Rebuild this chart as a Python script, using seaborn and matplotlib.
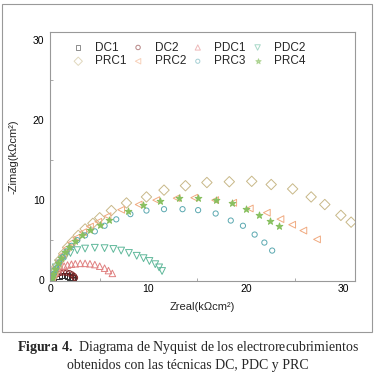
import numpy as np
import pandas as pd
import matplotlib
matplotlib.use("Agg")
import matplotlib.pyplot as plt
from matplotlib.patches import Rectangle
import seaborn as sns

sns.set_theme(style="white")
plt.rcParams['font.family'] = ['Liberation Sans', 'DejaVu Sans']
plt.rcParams['mathtext.fontset'] = 'custom'
plt.rcParams['mathtext.rm'] = 'Liberation Serif'
plt.rcParams['mathtext.bf'] = 'Liberation Serif:bold'

# ---- data (kOhm cm^2) ----
series_names = ["DC1", "DC2", "PDC1", "PDC2", "PRC1", "PRC2", "PRC3", "PRC4"]

dc1_x = [0.02, 0.1, 0.25, 0.5, 0.8, 1.1, 1.4, 1.7, 1.95, 2.15, 2.25]
dc1_y = [0.05, 0.15, 0.3, 0.45, 0.55, 0.6, 0.6, 0.5, 0.4, 0.25, 0.1]

dc2_x = [0.05, 0.15, 0.3, 0.5, 0.75, 1.0, 1.3, 1.6, 1.9, 2.15, 2.35, 2.45]
dc2_y = [0.1, 0.3, 0.5, 0.7, 0.85, 0.95, 1.0, 0.95, 0.85, 0.7, 0.5, 0.3]

pdc1_x = [0.05, 0.15, 0.3, 0.5, 0.75, 1.0, 1.35, 1.7, 2.1, 2.5, 3.0, 3.5, 4.0, 4.5, 5.0, 5.5, 5.9, 6.3]
pdc1_y = [0.15, 0.4, 0.7, 1.0, 1.3, 1.55, 1.75, 1.9, 2.0, 2.05, 2.1, 2.1, 2.05, 1.95, 1.75, 1.5, 1.2, 0.85]

pdc2_x = [0.05, 0.15, 0.3, 0.5, 0.75, 1.1, 1.5, 2.0, 2.7, 3.5, 4.5, 5.5, 6.4, 7.2, 8.0, 8.8, 9.5, 10.1, 10.7, 11.1, 11.4]
pdc2_y = [0.2, 0.6, 1.1, 1.6, 2.1, 2.6, 3.0, 3.4, 3.75, 3.95, 4.05, 4.0, 3.9, 3.7, 3.4, 3.05, 2.75, 2.4, 2.0, 1.6, 1.15]

prc1_x = [0.1, 0.3, 0.6, 0.9, 1.3, 1.7, 2.2, 2.8, 3.5, 4.3, 5.0, 6.2, 7.75, 9.8, 11.6, 13.8, 16.0, 18.3, 20.6, 22.6, 24.8, 26.7, 28.1, 29.75, 30.8]
prc1_y = [0.3, 0.9, 1.7, 2.5, 3.3, 4.1, 4.8, 5.6, 6.4, 7.1, 7.8, 8.7, 9.65, 10.4, 11.25, 11.8, 12.2, 12.3, 12.35, 11.95, 11.4, 10.4, 9.45, 8.1, 7.25]

prc2_x = [0.1, 0.3, 0.55, 0.85, 1.2, 1.6, 2.1, 2.6, 3.3, 4.0, 4.85, 5.8, 7.2, 9.0, 10.8, 12.9, 14.7, 16.85, 18.7, 20.4, 22.15, 23.55, 24.75, 25.9, 27.3]
prc2_y = [0.3, 0.9, 1.6, 2.4, 3.2, 4.0, 4.7, 5.3, 6.0, 6.7, 7.3, 8.0, 8.8, 9.45, 10.0, 10.25, 10.3, 10.0, 9.67, 8.96, 8.43, 7.63, 6.93, 6.2, 5.1]

prc3_x = [0.1, 0.3, 0.55, 0.85, 1.2, 1.6, 2.1, 2.7, 3.5, 4.5, 5.5, 6.7, 8.15, 9.8, 11.6, 13.5, 15.1, 16.9, 18.45, 19.7, 20.9, 21.9, 22.7]
prc3_y = [0.25, 0.8, 1.5, 2.2, 2.9, 3.6, 4.3, 5.0, 5.6, 6.1, 6.8, 7.6, 8.25, 8.7, 8.87, 8.87, 8.75, 8.33, 7.45, 6.8, 5.7, 4.7, 3.7]

prc4_x = [0.1, 0.25, 0.45, 0.7, 1.0, 1.4, 1.9, 2.5, 3.2, 4.0, 5.0, 6.0, 7.9, 9.4, 11.15, 13.15, 15.1, 16.9, 18.6, 20.0, 21.35, 22.5, 23.4]
prc4_y = [0.3, 0.8, 1.4, 2.1, 2.8, 3.5, 4.2, 4.9, 5.6, 6.3, 6.9, 7.5, 8.6, 9.4, 9.9, 10.3, 10.25, 10.05, 9.7, 8.9, 8.2, 7.4, 6.75]

xs = [dc1_x, dc2_x, pdc1_x, pdc2_x, prc1_x, prc2_x, prc3_x, prc4_x]
ys = [dc1_y, dc2_y, pdc1_y, pdc2_y, prc1_y, prc2_y, prc3_y, prc4_y]

x_ticks = [0, 10, 20, 30]
y_ticks = [0, 10, 20, 30]

# ---- styles ----
colors = ["#303030", "#7a2020", "#e08080", "#5fb89a", "#c8b888", "#f0aa80", "#5aa8b0", "#88c060"]
markers = ["s", "o", "^", "v", "D", "<", "o", "*"]
sizes = [16, 16, 22, 24, 28, 24, 14, 26]
filled = [False, False, False, False, False, False, False, True]

fig = plt.figure(figsize=(3.75, 3.77), dpi=100)
ax = fig.add_axes([50/375, 1-281/377, 305/375, 249/377])

for name, x, y, c, m, s, f in zip(series_names, xs, ys, colors, markers, sizes, filled):
    df = pd.DataFrame({"x": x, "y": y})
    sns.scatterplot(data=df, x="x", y="y", ax=ax, marker=m, s=s,
                    color=c, facecolors=(c if f else "none"), edgecolor=c,
                    linewidth=0.7, label=name, legend=False)

ax.set_xlim(-0.1, 31.2)
ax.set_ylim(-0.1, 31.0)
ax.set_xticks(x_ticks)
ax.set_yticks(y_ticks)
ax.set_xticks([5, 15, 25], minor=True)
ax.set_yticks([5, 15, 25], minor=True)
ax.tick_params(axis="x", which="major", direction="in", length=3, width=0.6, colors="#888888", labelcolor="black", labelsize=7.5, pad=2)
ax.tick_params(axis="y", which="major", direction="inout", length=4, width=0.6, colors="#888888", labelcolor="black", labelsize=7.5, pad=2)
ax.tick_params(which="minor", direction="in", length=2, width=0.5, colors="#888888", bottom=True, left=True)
for sp in ax.spines.values():
    sp.set_color("#999999")
    sp.set_linewidth(0.8)

ax.set_xlabel("Zreal(k\u03a9cm\u00b2)", fontsize=8, labelpad=6)
ax.set_ylabel("-Zimag(k\u03a9cm\u00b2)", fontsize=8, labelpad=10)

handles, labels = ax.get_legend_handles_labels()
order = [0, 4, 1, 5, 2, 6, 3, 7]
leg = ax.legend([handles[i] for i in order], [labels[i] for i in order], ncol=4,
                loc="upper left", bbox_to_anchor=(0.05, 0.99),
                frameon=False, fontsize=8.5, handletextpad=0.9, columnspacing=0.5,
                labelspacing=0.15, markerscale=0.8, handlelength=1.0, borderaxespad=0.2)
for h in leg.legend_handles:
    h.set_alpha(0.55)

# outer frame
fig.add_artist(Rectangle((2/375, 1-332/377), 370/375, 328/377, transform=fig.transFigure,
                         fill=False, edgecolor="#999999", linewidth=0.8))

# caption
fig.text(0.5, 1-348/377, "$\\mathbf{Figura\\ 4.}$ Diagrama de Nyquist de los electrorecubrimientos",
         ha="center", va="center", fontsize=10, family=["Liberation Serif", "DejaVu Serif"])
fig.text(0.5, 1-366/377, "obtenidos con las técnicas DC, PDC y PRC",
         ha="center", va="center", fontsize=10, family=["Liberation Serif", "DejaVu Serif"])

fig.savefig("out.png", dpi=100)
